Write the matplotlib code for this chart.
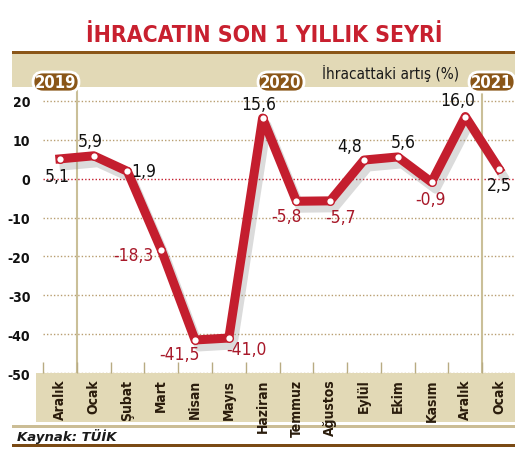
import matplotlib.pyplot as plt
from matplotlib.patches import Rectangle, FancyBboxPatch
import matplotlib.patheffects as pe

# data
months = ['Aralık', 'Ocak', 'Şubat', 'Mart', 'Nisan', 'Mayıs', 'Haziran',
          'Temmuz', 'Ağustos', 'Eylül', 'Ekim', 'Kasım', 'Aralık', 'Ocak']
values = [5.1, 5.9, 1.9, -18.3, -41.5, -41.0, 15.6, -5.8, -5.7, 4.8, 5.6, -0.9, 16.0, 2.5]
years = ['2019', '2020', '2021']
yticks = [20, 10, 0, -10, -20, -30, -40, -50]

# label offsets (pixels) next to each point
offsets = [(-3, -17), (-3, 15), (16, 0), (-28, -5), (-16, -14), (18, -11), (-4, 14),
           (-10, -15), (10, -16), (-14, 14), (5, 15), (-1, -17), (-8, 17), (0, -16)]

plt.rcParams['font.family'] = ['DejaVu Sans']
plt.rcParams['font.stretch'] = 'condensed'
RED = '#c41e2e'
DARKRED = '#a8192a'
BROWN = '#8a5618'
TAN = '#e2d9b6'
W, H = 525, 452

fig = plt.figure(figsize=(W / 100, H / 100), dpi=100)

# background layer in pixel coords
bg = fig.add_axes([0, 0, 1, 1], zorder=0)
bg.set_xlim(0, W)
bg.set_ylim(H, 0)
bg.axis('off')
bg.text(264, 35, 'İHRACATIN SON 1 YILLIK SEYRİ', color='#c8202f', fontsize=16.5,
        fontweight='bold', ha='center', va='center')
bg.add_patch(Rectangle((12, 52), 503, 3, color=BROWN, lw=0))
bg.add_patch(Rectangle((12, 55), 503, 33, color=TAN, lw=0))
bg.text(322, 73, 'İhracattaki artış (%)', fontsize=11,
        color='#1a1a1a', ha='left', va='center')
bg.add_patch(Rectangle((36, 374), 479, 49, color=TAN, lw=0))
bg.add_patch(Rectangle((12, 426), 503, 3, color='#cbbd95', lw=0))
bg.text(17, 437, 'Kaynak: TÜİK', fontsize=9.5, fontstyle='italic', fontweight='bold',
        stretch='normal', color='#1a1a1a', va='center')
bg.add_patch(Rectangle((12, 445), 503, 3, color='#7a4a14', lw=0))

# main chart
ax = fig.add_axes([43 / W, (H - 374) / H, (515 - 43) / W, (374 - 88) / H], zorder=1)
ax.patch.set_alpha(0)
ax.set_xlim(-0.5, 13.47)
ax.set_ylim(-50, 23.6)
for s in ax.spines.values():
    s.set_visible(False)

for yv in yticks:
    ax.axhline(yv, color=RED if yv == 0 else '#b89e70', linestyle=(0, (1, 1.5)),
               linewidth=1, zorder=1)
for xv in [0.5, 12.5]:
    ax.axvline(xv, color='#cabf98', linewidth=1.5, zorder=1)

ax.set_yticks(yticks)
ax.set_yticklabels([str(v) for v in yticks], fontsize=10, fontweight='bold',
                   color='#111111')
ax.tick_params(axis='y', length=0, pad=9)

x = list(range(len(months)))
ax.set_xticks(x)
ax.set_xticklabels(months, rotation=90, fontsize=10, fontweight='bold',
                   color='#2a1c0c')
ax.tick_params(axis='x', which='major', length=0, pad=4)
ax.set_xticks([i - 0.5 for i in range(len(months))], minor=True)
ax.tick_params(axis='x', which='minor', direction='in', length=8, width=1, color='#b8ab82')

ax.plot(x, values, color=RED, linewidth=6.5, solid_joinstyle='round', zorder=3,
        path_effects=[pe.SimpleLineShadow(offset=(3, -5), shadow_color='#888888', alpha=0.3),
                      pe.Normal()])
ax.plot(x, values, linestyle='none', marker='o', markersize=5.5,
        markerfacecolor='white', markeredgecolor=RED, markeredgewidth=1, zorder=4)

for i, v in enumerate(values):
    txt = f'{v:.1f}'.replace('.', ',')
    ax.annotate(txt, (i, v), xytext=offsets[i], textcoords='offset pixels',
                ha='center', va='center', fontsize=12.5,
                color='#111111' if v > 0 else DARKRED, zorder=5)

# year badges
top = fig.add_axes([0, 0, 1, 1], zorder=2)
top.set_xlim(0, W)
top.set_ylim(H, 0)
top.axis('off')
for yr, cx in zip(years, [56, 281, 492]):
    top.add_patch(FancyBboxPatch((cx - 23, 73), 46, 20,
                                 boxstyle='round,pad=0,rounding_size=10',
                                 facecolor=BROWN, edgecolor='white', linewidth=2))
    top.text(cx, 83, yr, color='white', fontsize=12, fontweight='bold',
             ha='center', va='center')

fig.savefig('out.png', dpi=100)
